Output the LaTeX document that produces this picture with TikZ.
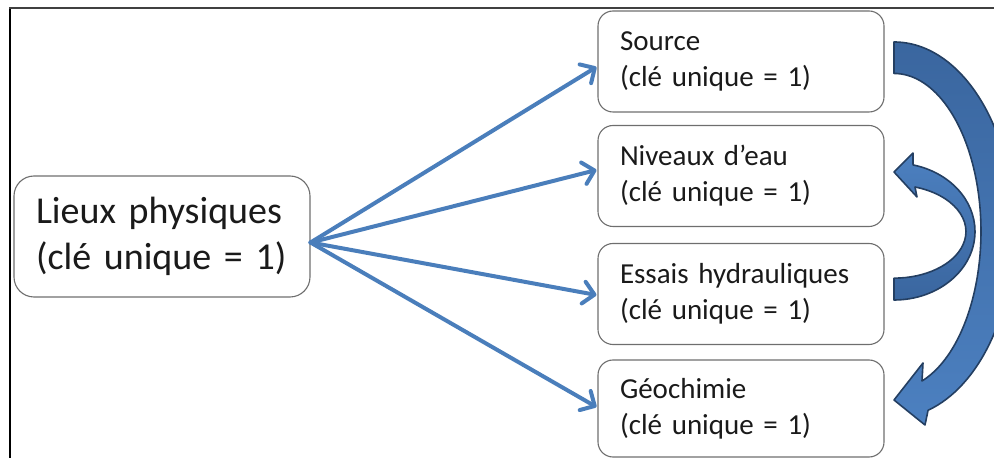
\documentclass[tikz,border=0pt]{standalone}
\usepackage{fontspec}
\setmainfont{Carlito}
\usetikzlibrary{arrows.meta}
\definecolor{boxline}{HTML}{6E6E6E}
\definecolor{linkblue}{HTML}{4A7EBB}
\definecolor{arrlight}{HTML}{4C80C0}
\definecolor{arrdark}{HTML}{3A669F}
\definecolor{arredge}{HTML}{243F62}
\definecolor{txt}{HTML}{1A1A1A}
\begin{document}
\begin{tikzpicture}[x=1pt,y=1pt,
  smallbox/.style={draw=boxline, line width=1.1pt, rounded corners=15pt,
    minimum height=101pt, inner xsep=22pt, inner ysep=0pt, text width=242pt,
    align=left, text=txt, font=\fontsize{29}{36}\selectfont},
  bigbox/.style={draw=boxline, line width=1.1pt, rounded corners=20pt,
    minimum height=121pt, inner xsep=22pt, inner ysep=0pt, text width=252pt,
    align=left, text=txt, font=\fontsize{38}{46}\selectfont},
  link/.style={draw=linkblue, line width=4pt, line cap=round,
    -{Straight Barb[length=11pt,width=22pt,line cap=round,line join=round]}},
  bigcurve/.style={draw=arredge, line width=1.6pt, line join=round,
    top color=arrdark, bottom color=arrlight},
  smallcurve/.style={draw=arredge, line width=1.6pt, line join=round,
    top color=arrlight, bottom color=arrdark},
  frameline/.style={line width=2pt}
]
\useasboundingbox (0,0) rectangle (994,458);
% frame
\draw[frameline, black] (10,0) -- (10,451);
\draw[frameline, black!75] (9,450) -- (994,450);

% boxes
\node[bigbox] (lieux) at (162,221.5) {Lieux physiques\\(clé unique = 1)};
\node[smallbox] (src) at (741,396.5) {Source\\(clé unique = 1)};
\node[smallbox] (niv) at (741,282) {Niveaux d’eau\\(clé unique = 1)};
\node[smallbox] (ess) at (741,164) {Essais hydrauliques\\(clé unique = 1)};
\node[smallbox, minimum height=97pt] (geo) at (741,49.5) {Géochimie\\(clé unique = 1)};

% links
\draw[link] ([yshift=-6pt]lieux.east) -- ([xshift=-1pt,yshift=-5.5pt]src.west);
\draw[link] ([yshift=-6pt]lieux.east) -- ([xshift=-1pt,yshift=6pt]niv.west);
\draw[link] ([yshift=-6pt]lieux.east) -- ([xshift=-1pt,yshift=-1pt]ess.west);
\draw[link] ([yshift=-6pt]lieux.east) -- ([xshift=-1pt,yshift=1.5pt]geo.west);

\begin{scope}
\clip (0,0) rectangle (994,458);
% big curved arrow (Source -> Géochimie)
\path[bigcurve] (894,416)
  arc[start angle=90, end angle=-73.5, x radius=120, y radius=188]
  -- (925,33) -- (894,58) -- (923,95) -- (922,77)
  arc[start angle=-71.2, end angle=90, x radius=87, y radius=158]
  -- cycle;

% small curved arrow (Essais -> Niveaux)
\path[smallcurve] (894,158)
  arc[start angle=-90, end angle=76.4, x radius=81, y radius=68.5]
  -- (913,305) -- (894,286) -- (917,261) -- (915,271)
  arc[start angle=73, end angle=-90, x radius=72, y radius=46.6]
  -- cycle;
\end{scope}
\end{tikzpicture}
\end{document}
